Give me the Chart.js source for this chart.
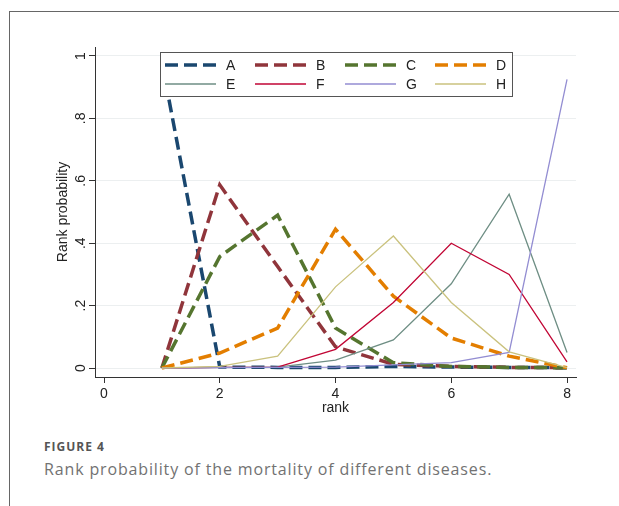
<!DOCTYPE html>
<html lang="en">
<head>
<meta charset="UTF-8">
<title>Rank probability</title>
<script src="https://cdn.jsdelivr.net/npm/chart.js@4.4.1/dist/chart.umd.min.js"></script>
<style>
  body { margin: 0; background: #fff; width: 619px; height: 506px; overflow: hidden; position: relative; }
  #frame { position: absolute; left: 9px; top: 11px; width: 700px; height: 600px; border-left: 1px solid #666; border-top: 1px solid #666; }
  #chart { position: absolute; left: 0; top: 0; }
  .figno { position: absolute; left: 44px; top: 441px; font: 700 12px/12px "Open Sans", sans-serif; letter-spacing: 1px; color: #555; }
  .caption { position: absolute; left: 44px; top: 461px; font: 400 16px/16px "Open Sans", sans-serif; letter-spacing: 0.85px; color: #727272; white-space: nowrap; }
</style>
</head>
<body>
  <div id="frame"></div>
  <canvas id="chart" width="619" height="421"></canvas>
  <div class="figno">FIGURE 4</div>
  <div class="caption">Rank probability of the mortality of different diseases.</div>

<script>
// chart data
const ranks = [1, 2, 3, 4, 5, 6, 7, 8];
const seriesNames = ['A', 'B', 'C', 'D', 'E', 'F', 'G', 'H'];
const valuesA = [0.98, 0.003, 0.002, 0.002, 0.005, 0.003, 0.002, 0.001];
const valuesB = [0, 0.587, 0.325, 0.068, 0.012, 0.005, 0.002, 0.001];
const valuesC = [0, 0.357, 0.49, 0.128, 0.017, 0.005, 0.002, 0.001];
const valuesD = [0, 0.048, 0.128, 0.445, 0.23, 0.096, 0.038, 0.001];
const valuesE = [0, 0.002, 0.003, 0.025, 0.09, 0.27, 0.557, 0.05];
const valuesF = [0, 0.002, 0.003, 0.06, 0.21, 0.40, 0.30, 0.02];
const valuesG = [0, 0.001, 0.002, 0.003, 0.01, 0.017, 0.05, 0.925];
const valuesH = [0, 0.005, 0.038, 0.26, 0.423, 0.21, 0.052, 0.001];
const xTicks = [0, 2, 4, 6, 8];
const yTicks = [0, 0.2, 0.4, 0.6, 0.8, 1];
const yTickLabels = ['0', '.2', '.4', '.6', '.8', '1'];

const allValues = [valuesA, valuesB, valuesC, valuesD, valuesE, valuesF, valuesG, valuesH];
const colors = ['#1a476f', '#90353b', '#55752f', '#e37e00', '#6e8e84', '#c10534', '#938dd2', '#cac27e'];
const FONT = '"Liberation Sans", Arial, sans-serif';
Chart.defaults.font.family = FONT;

const datasets = allValues.map((vals, i) => ({
    label: seriesNames[i],
    data: ranks.map((r, j) => ({ x: r, y: vals[j] })),
    borderColor: colors[i],
    borderWidth: i < 4 ? 3.5 : 1.3,
    borderDash: i < 4 ? [13, 6] : [],
    pointRadius: 0,
    tension: 0,
    fill: false,
    order: 8 - i   // later series drawn on top
}));

// rotated y tick labels (Stata style)
const yLabelPlugin = {
    id: 'yLabels',
    afterDraw(chart) {
        const ctx = chart.ctx, ys = chart.scales.y;
        ctx.save();
        ctx.font = '14px ' + FONT;
        ctx.fillStyle = '#222';
        ctx.textAlign = 'center';
        ctx.textBaseline = 'middle';
        yTicks.forEach((v, i) => {
            ctx.save();
            ctx.translate(81, ys.getPixelForValue(v));
            ctx.rotate(-Math.PI / 2);
            ctx.fillText(yTickLabels[i], 0, 0);
            ctx.restore();
        });
        ctx.restore();
    }
};

// boxed legend inside the plot, 4 columns x 2 rows
const legendBox = {
    id: 'legendBox',
    afterDraw(chart) {
        const ctx = chart.ctx;
        ctx.save();
        ctx.fillStyle = '#fff';
        ctx.fillRect(160, 52, 353, 45);
        ctx.strokeStyle = '#555';
        ctx.lineWidth = 1;
        ctx.strokeRect(160.5, 52.5, 352, 44);
        chart.data.datasets.forEach((ds, i) => {
            const x0 = 165 + (i % 4) * 90;
            const y0 = i < 4 ? 65 : 84;
            ctx.strokeStyle = ds.borderColor;
            ctx.lineWidth = ds.borderWidth;
            ctx.setLineDash(ds.borderDash);
            ctx.beginPath();
            ctx.moveTo(x0, y0);
            ctx.lineTo(x0 + 51, y0);
            ctx.stroke();
            ctx.setLineDash([]);
            ctx.fillStyle = '#222';
            ctx.font = '14px ' + FONT;
            ctx.textAlign = 'left';
            ctx.textBaseline = 'middle';
            ctx.fillText(ds.label, x0 + 61, y0 + 1);
        });
        ctx.restore();
    }
};

new Chart(document.getElementById('chart'), {
    type: 'line',
    data: { datasets: datasets },
    options: {
        responsive: false,
        animation: false,
        layout: { padding: { left: 51, top: 47, right: 43, bottom: 0 } },
        plugins: { legend: { display: false }, tooltip: { enabled: false } },
        scales: {
            x: {
                type: 'linear',
                min: -0.1555,
                max: 8.155,
                afterBuildTicks: s => { s.ticks = xTicks.map(v => ({ value: v })); },
                afterFit: s => { s.height = 44; },
                grid: { drawOnChartArea: false, tickLength: 6, tickColor: '#333' },
                border: { color: '#333', width: 1 },
                ticks: { color: '#222', font: { size: 14 }, padding: 3, maxRotation: 0 },
                title: { display: true, text: 'rank', color: '#222', font: { size: 14 } }
            },
            y: {
                min: -0.0288,
                max: 1.0288,
                afterBuildTicks: s => { s.ticks = yTicks.map(v => ({ value: v })); },
                afterFit: s => { s.width = 44; },
                grid: { color: '#eceff0', tickLength: 6, tickColor: '#333' },
                border: { color: '#333', width: 1 },
                ticks: { display: false },
                title: { display: true, text: 'Rank probability', color: '#222', font: { size: 14 } }
            }
        }
    },
    plugins: [yLabelPlugin, legendBox]
});
</script>
</body>
</html>
